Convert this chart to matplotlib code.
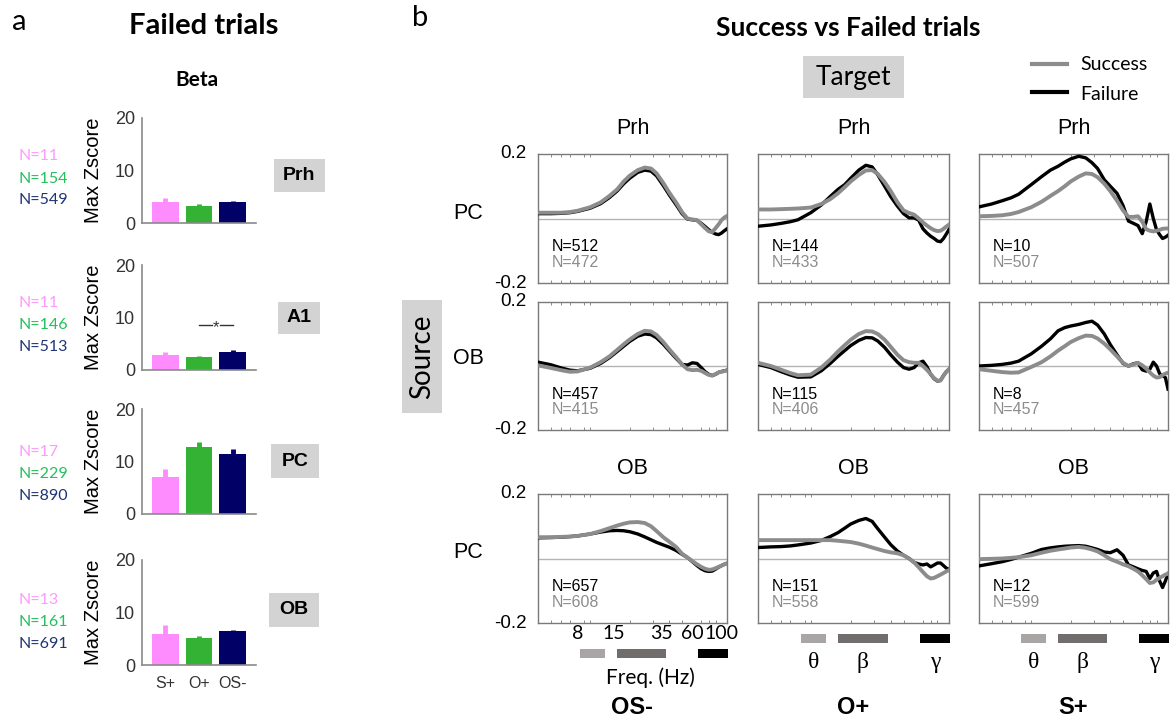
import matplotlib
matplotlib.use("Agg")
import matplotlib.pyplot as plt
from matplotlib.patches import Rectangle
from matplotlib.lines import Line2D
from matplotlib.ticker import FixedLocator, LogLocator, NullFormatter
from matplotlib.transforms import ScaledTranslation

W, H = 1171, 725

# ---- panel a : failed trials, beta max zscore ----
regions = ["Prh", "A1", "PC", "OB"]
groups = ["S+", "O+", "OS-"]
bar_means = [[4.0, 3.3, 4.0],
             [2.9, 2.4, 3.5],
             [7.1, 12.7, 11.5],
             [6.0, 5.2, 6.5]]
bar_errs = [[0.8, 0.3, 0.1],
            [0.6, 0.2, 0.3],
            [1.5, 1.1, 0.8],
            [1.7, 0.3, 0.2]]
bar_n = [[11, 154, 549],
         [11, 146, 513],
         [17, 229, 890],
         [13, 161, 691]]

# ---- panel b : coherence spectra, success vs failure ----
freqs = [4, 5, 6, 7, 8, 10, 12, 14, 16, 18, 20, 23, 26, 29, 32, 36, 40, 45, 50, 55,
         60, 65, 70, 75, 80, 85, 90, 95, 100, 105, 110]

# row 1 : PC -> Prh
succ_r1 = [
    [0.018, 0.018, 0.018, 0.02, 0.024, 0.035, 0.05, 0.07, 0.09, 0.115, 0.133, 0.15, 0.158, 0.155, 0.14, 0.11,
     0.08, 0.05, 0.02, 0.0, -0.003, -0.005, -0.018, -0.03, -0.04, -0.042, -0.03, -0.018, -0.005, 0.003, 0.008],
    [0.028, 0.028, 0.029, 0.03, 0.031, 0.034, 0.045, 0.06, 0.078, 0.097, 0.115, 0.135, 0.149, 0.15, 0.138, 0.113,
     0.085, 0.05, 0.025, 0.017, 0.012, 0.0, -0.012, -0.022, -0.03, -0.036, -0.039, -0.038, -0.032, -0.025, -0.019],
    [0.007, 0.008, 0.01, 0.014, 0.02, 0.035, 0.052, 0.07, 0.085, 0.1, 0.115, 0.13, 0.14, 0.138, 0.128, 0.108,
     0.085, 0.055, 0.025, 0.005, 0.005, 0.007, -0.01, -0.033, -0.038, -0.04, -0.038, -0.035, -0.032, -0.031, -0.031],
]
fail_r1 = [
    [0.015, 0.015, 0.016, 0.018, 0.022, 0.032, 0.046, 0.065, 0.085, 0.108, 0.125, 0.143, 0.15, 0.147, 0.132, 0.102,
     0.073, 0.043, 0.015, -0.002, -0.004, -0.006, -0.015, -0.025, -0.035, -0.043, -0.048, -0.05, -0.045, -0.038, -0.032],
    [-0.024, -0.02, -0.015, -0.01, -0.004, 0.018, 0.042, 0.068, 0.09, 0.105, 0.125, 0.15, 0.165, 0.16, 0.135, 0.1,
     0.068, 0.038, 0.015, 0.002, 0.002, -0.005, -0.032, -0.045, -0.055, -0.062, -0.07, -0.072, -0.062, -0.048, -0.034],
    [0.036, 0.045, 0.055, 0.064, 0.075, 0.105, 0.13, 0.15, 0.162, 0.175, 0.185, 0.193, 0.188, 0.173, 0.155, 0.12,
     0.1, 0.078, 0.04, -0.008, -0.015, -0.022, -0.047, -0.01, 0.045, 0.0, -0.035, -0.05, -0.062, -0.058, -0.052],
]
# row 2 : OB -> Prh
succ_r2 = [
    [0.002, -0.006, -0.013, -0.018, -0.017, -0.005, 0.012, 0.03, 0.05, 0.068, 0.083, 0.1, 0.11, 0.108, 0.097, 0.075,
     0.052, 0.028, 0.005, -0.01, -0.013, -0.012, -0.015, -0.022, -0.028, -0.03, -0.025, -0.02, -0.018, -0.016, -0.014],
    [0.01, 0.0, -0.012, -0.022, -0.029, -0.027, -0.005, 0.02, 0.045, 0.065, 0.082, 0.1, 0.109, 0.108, 0.1, 0.082,
     0.06, 0.035, 0.018, 0.012, 0.01, 0.01, 0.0, -0.012, -0.025, -0.038, -0.046, -0.045, -0.03, -0.018, -0.01],
    [-0.01, -0.015, -0.019, -0.021, -0.02, -0.003, 0.012, 0.03, 0.048, 0.062, 0.075, 0.087, 0.095, 0.094, 0.086, 0.07,
     0.052, 0.03, 0.01, 0.0, 0.005, 0.01, 0.002, -0.008, -0.02, -0.03, -0.036, -0.035, -0.028, -0.024, -0.021],
]
fail_r2 = [
    [0.012, 0.004, -0.006, -0.013, -0.015, -0.007, 0.008, 0.026, 0.045, 0.062, 0.077, 0.093, 0.1, 0.098, 0.088, 0.068,
     0.047, 0.024, 0.005, 0.003, 0.01, 0.008, -0.005, -0.018, -0.026, -0.03, -0.026, -0.02, -0.017, -0.015, -0.013],
    [0.005, -0.005, -0.018, -0.028, -0.035, -0.034, -0.015, 0.008, 0.03, 0.048, 0.064, 0.08, 0.089, 0.088, 0.078, 0.058,
     0.035, 0.012, -0.005, -0.01, -0.005, 0.01, 0.015, -0.002, -0.026, -0.04, -0.047, -0.045, -0.03, -0.018, -0.01],
    [0.0, 0.002, 0.005, 0.009, 0.015, 0.038, 0.062, 0.085, 0.11, 0.12, 0.125, 0.13, 0.136, 0.14, 0.128, 0.1,
     0.067, 0.035, 0.008, 0.0, 0.007, 0.01, -0.012, -0.016, -0.01, 0.012, 0.0, -0.024, -0.03, -0.036, -0.072],
]
# row 3 : PC -> OB
succ_r3 = [
    [0.066, 0.066, 0.067, 0.068, 0.07, 0.076, 0.085, 0.094, 0.102, 0.108, 0.112, 0.113, 0.11, 0.1, 0.085, 0.066,
     0.052, 0.036, 0.015, 0.003, -0.008, -0.018, -0.026, -0.032, -0.035, -0.034, -0.03, -0.026, -0.022, -0.018, -0.015],
    [0.057, 0.057, 0.057, 0.057, 0.057, 0.057, 0.057, 0.057, 0.055, 0.053, 0.051, 0.046, 0.04, 0.034, 0.029, 0.023,
     0.019, 0.016, 0.01, 0.0, -0.012, -0.027, -0.042, -0.055, -0.062, -0.06, -0.055, -0.05, -0.045, -0.04, -0.036],
    [-0.002, -0.001, 0.0, 0.002, 0.004, 0.01, 0.018, 0.024, 0.028, 0.031, 0.034, 0.036, 0.033, 0.028, 0.022, 0.01,
     -0.002, -0.01, -0.018, -0.024, -0.032, -0.04, -0.052, -0.064, -0.076, -0.074, -0.066, -0.06, -0.055, -0.05, -0.047],
]
fail_r3 = [
    [0.064, 0.065, 0.066, 0.068, 0.07, 0.076, 0.082, 0.086, 0.087, 0.086, 0.083, 0.076, 0.067, 0.058, 0.05, 0.042,
     0.035, 0.025, 0.013, 0.003, -0.01, -0.022, -0.032, -0.038, -0.04, -0.039, -0.033, -0.027, -0.022, -0.018, -0.015],
    [0.034, 0.036, 0.037, 0.039, 0.042, 0.048, 0.056, 0.068, 0.08, 0.094, 0.107, 0.118, 0.124, 0.115, 0.092, 0.066,
     0.043, 0.023, 0.01, 0.0, -0.012, -0.017, -0.02, -0.017, -0.026, -0.02, -0.014, -0.014, -0.022, -0.03, -0.034],
    [-0.023, -0.016, -0.01, -0.003, 0.004, 0.016, 0.028, 0.033, 0.036, 0.038, 0.039, 0.04, 0.038, 0.033, 0.028, 0.02,
     0.018, 0.027, 0.01, -0.02, -0.026, -0.032, -0.037, -0.04, -0.062, -0.045, -0.04, -0.07, -0.09, -0.07, -0.047],
]
n_fail = [[512, 144, 10], [457, 115, 8], [657, 151, 12]]
n_succ = [[472, 433, 507], [415, 406, 457], [608, 558, 599]]

row_sources = ["PC", "OB", "PC"]
row_targets = ["Prh", "Prh", "OB"]
col_names = ["OS-", "O+", "S+"]
freq_ticks = [8, 15, 35, 60, 100]
band_lo = [8.4, 15.9, 66]
band_hi = [13, 38, 112]
band_sym = ["\u03b8", "\u03b2", "\u03b3"]

bar_colors = ["#ff8cff", "#33b233", "#000066"]
n_colors = ["#ff99ff", "#22c05a", "#1f3473"]
band_colors = ["#a9a5a5", "#716d6d", "#000000"]
succ_color = "#8c8c8c"
fail_color = "#000000"

plt.rcParams["font.family"] = ["Liberation Sans", "DejaVu Sans"]

fig = plt.figure(figsize=(W / 100, H / 100), dpi=100)


def px_axes(x0, y0, x1, y1):
    return fig.add_axes([x0 / W, 1 - y1 / H, (x1 - x0) / W, (y1 - y0) / H])


def ftext(x, y, s, **kw):
    kw.setdefault("ha", "center")
    kw.setdefault("va", "center")
    return fig.text(x / W, 1 - y / H, s, **kw)


def frect(x0, y0, x1, y1, color):
    fig.add_artist(Rectangle((x0 / W, 1 - y1 / H), (x1 - x0) / W, (y1 - y0) / H,
                             transform=fig.transFigure, fc=color, ec="none", zorder=0))


# ---------------- panel a ----------------
ftext(19, 22, "a", fontsize=21, family="Lato")
ftext(204, 26, "Failed trials", fontsize=21, family="Lato", weight="bold")
ftext(197, 80, "Beta", fontsize=15, family="Lato", weight="bold")

bar_tops = [118, 265, 409, 560]
n_offsets = [[38, 61, 82], [38, 60, 82], [43, 65, 87], [40, 62, 84]]
box_y = [(159, 192), (302, 334), (444, 478), (593, 627)]
box_x = [(274, 325), (278, 320), (271, 319), (269, 319)]
xs = [1, 2, 3]

for i, reg in enumerate(regions):
    top = bar_tops[i]
    ax = px_axes(142, top, 256, top + 105)
    ax.bar(xs, bar_means[i], width=0.8, color=bar_colors, zorder=2)
    for x, m, e, c in zip(xs, bar_means[i], bar_errs[i], bar_colors):
        ax.plot([x, x], [m, m + e], color=c, lw=3.5, solid_capstyle="butt", zorder=2)
    ax.set_xlim(0.3, 3.7)
    ax.set_ylim(0, 20)
    ax.set_yticks([0, 10, 20])
    for s in ["top", "right"]:
        ax.spines[s].set_visible(False)
    for s in ["left", "bottom"]:
        ax.spines[s].set_color("#8a8a8a")
        ax.spines[s].set_linewidth(1.2)
    ax.tick_params(axis="y", length=0, pad=5, labelsize=13, labelcolor="#333333")
    if i == len(regions) - 1:
        ax.set_xticks(xs)
        ax.set_xticklabels(groups)
        ax.tick_params(axis="x", length=0, pad=8, labelsize=11.5, labelcolor="#333333")
    else:
        ax.set_xticks([])
    ax.set_ylabel("Max Zscore", fontsize=14.5)
    ax.yaxis.set_label_coords(-(142 - 103) / 114, 0.5)

    for k in range(3):
        ftext(19, top + n_offsets[i][k], "N=%d" % bar_n[i][k], ha="left",
              fontsize=11.5, family="Lato", color=n_colors[k])

    frect(box_x[i][0], box_y[i][0], box_x[i][1], box_y[i][1], "#d3d3d3")
    ftext((box_x[i][0] + box_x[i][1]) / 2, (box_y[i][0] + box_y[i][1]) / 2, reg,
          fontsize=14, weight="bold")

    if reg == "A1":
        ax.plot([2, 2.38], [8.5, 8.5], color="#333333", lw=1)
        ax.plot([2.62, 3], [8.5, 8.5], color="#333333", lw=1)
        ax.text(2.5, 8.0, "*", ha="center", va="center", fontsize=12, color="#333333")

# ---------------- panel b ----------------
ftext(420, 18, "b", fontsize=21, family="Lato")
ftext(848, 28, "Success vs Failed trials", fontsize=19, family="Lato", weight="bold")

frect(803, 56, 904, 98, "#d3d3d3")
ftext(853.5, 77, "Target", fontsize=19, family="Lato")
frect(402, 300, 442, 413, "#d3d3d3")
ftext(422, 356.5, "Source", fontsize=20, family="Lato", rotation=90)

# legend
fig.add_artist(Line2D([1032 / W, 1067 / W], [1 - 64 / H] * 2, color=succ_color, lw=3))
fig.add_artist(Line2D([1032 / W, 1067 / W], [1 - 92 / H] * 2, color=fail_color, lw=3))
ftext(1080, 65, "Success", ha="left", fontsize=14, family="Lato")
ftext(1080, 94, "Failure", ha="left", fontsize=14, family="Lato")

col_x = [(538, 727), (758, 949), (979, 1168)]
row_y = [(154, 283), (302, 430), (494, 623)]
row_label_y = [213, 358, 553]
succ_all = [succ_r1, succ_r2, succ_r3]
fail_all = [fail_r1, fail_r2, fail_r3]
lift = ScaledTranslation(0, 2 / 100, fig.dpi_scale_trans)

for r in range(3):
    y0, y1 = row_y[r]
    ftext(468, row_label_y[r], row_sources[r], fontsize=15.5)
    for c in range(3):
        x0, x1 = col_x[c]
        ax = px_axes(x0, y0, x1, y1)
        ax.set_xscale("log")
        ax.axhline(0, color="#b4b4b4", lw=1, zorder=1)
        ax.plot(freqs, fail_all[r][c], color=fail_color, lw=2.4, zorder=3,
                solid_joinstyle="round")
        ax.plot(freqs, succ_all[r][c], color=succ_color, lw=2.8, zorder=4,
                solid_joinstyle="round")
        ax.set_xlim(4, 110)
        ax.set_ylim(-0.2, 0.2)
        for s in ax.spines.values():
            s.set_color("#7a7a7a")
            s.set_linewidth(1)
        ax.xaxis.set_minor_locator(LogLocator(base=10, subs=range(1, 10)))
        ax.xaxis.set_minor_formatter(NullFormatter())
        ax.xaxis.set_major_locator(FixedLocator(freq_ticks))
        ax.tick_params(axis="x", which="minor", direction="in", length=2.5,
                       top=True, bottom=True, color="#7a7a7a")
        ax.tick_params(axis="x", which="major", length=0, pad=1.5)
        ax.set_yticks([-0.2, 0.2])
        ax.tick_params(axis="y", length=0, pad=8, labelsize=13.5)
        if c == 0:
            ax.set_yticklabels(["-0.2", "0.2"])
            for lbl in ax.get_yticklabels():
                lbl.set_transform(lbl.get_transform() + lift)
        else:
            ax.set_yticklabels([])
        if r == 2 and c == 0:
            ax.set_xticklabels([str(f) for f in freq_ticks], fontsize=14, family="Lato")
        else:
            ax.set_xticklabels([])

        ax.text(0.072, 0.281, "N=%d" % n_fail[r][c], transform=ax.transAxes,
                fontsize=11.5, color=fail_color, va="center")
        ax.text(0.072, 0.16, "N=%d" % n_succ[r][c], transform=ax.transAxes,
                fontsize=11.5, color=succ_color, va="center")

        if r in (0, 2):
            ax.text(0.5, 1 + 26 / 129, row_targets[r], transform=ax.transAxes,
                    ha="center", va="center", fontsize=15.5)

        if r == 2:
            band_y = -0.2016 if c == 0 else -0.085
            xt = ax.get_xaxis_transform()
            for lo, hi, bc, sym in zip(band_lo, band_hi, band_colors, band_sym):
                ax.add_patch(Rectangle((lo, band_y - 0.07), hi - lo, 0.07, transform=xt,
                                       fc=bc, ec="none", clip_on=False))
                if c > 0:
                    ax.text((lo * hi) ** 0.5, -0.31, sym, transform=xt, ha="center",
                            va="center", fontsize=17, family="Liberation Serif")
            ax.text(0.5, -(708 - 623) / 129, col_names[c], transform=ax.transAxes,
                    ha="center", va="center", fontsize=17, weight="bold")

ftext(650, 678, "Freq. (Hz)", fontsize=15, family="Lato")

fig.savefig("out.png", dpi=100)
